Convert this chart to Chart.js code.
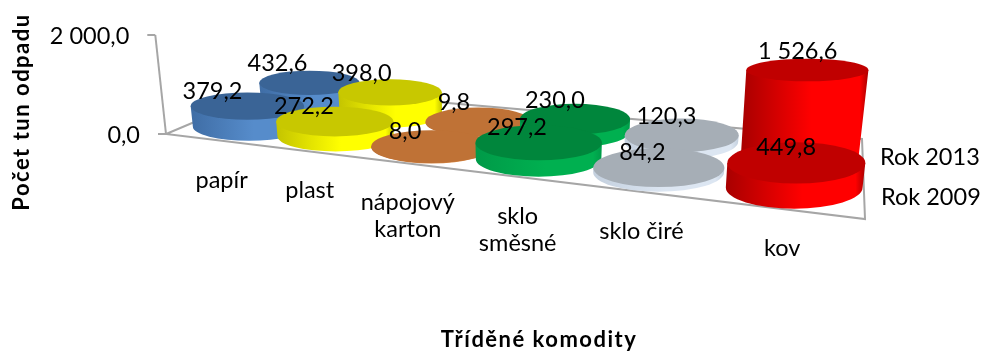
<!DOCTYPE html>
<html>
<head>
<meta charset="utf-8">
<script src="https://cdn.jsdelivr.net/npm/chart.js@4"></script>
<style>
  html, body { margin: 0; padding: 0; background: #fff; }
  canvas { display: block; }
</style>
</head>
<body>
<canvas id="chart" width="981" height="351"></canvas>
<script>
// Values
const categories = ['papír', 'plast', ['nápojový', 'karton'], ['sklo', 'směsné'], 'sklo čiré', 'kov'];
const rok2009 = [379.2, 272.2, 8.0, 297.2, 84.2, 449.8];
const rok2013 = [432.6, 398.0, 9.8, 230.0, 120.3, 1526.6];
const seriesNames = ['Rok 2009', 'Rok 2013'];
const yTicks = [0, 2000];

// Cylinder colours per category
const topColors = ['#3a6496', '#c8c800', '#bf7236', '#00863c', '#a6aeb6', '#c00000'];
const sideDark = ['#3f6da5', '#c4c400', '#b86c32', '#009a48', '#c4d0de', '#a80000'];
const sideLight = ['#568ccb', '#ffff00', '#d98844', '#00b050', '#dce6f2', '#ff0000'];

const FONT = 'Lato, sans-serif';
const TEXT_SIZE = 23.5;

// Floor of the 3D box on screen: front left, front right, back right, back left
const FL = [166, 134], FR = [865, 219], BR = [862, 139], BL = [275, 88];
// Where each series stands on the floor, 2009 in front
const DEPTH = [0.25, 0.70];
const BAND_START = [0.025, 0.06];
const BAND_SCALE = [0.98, 0.942];
const LABEL_RISE = [15, 19];

// Homography from the unit square to the floor
function makeFloor() {
  const dx1 = FR[0] - BR[0], dx2 = BL[0] - BR[0], sx = FL[0] - FR[0] + BR[0] - BL[0];
  const dy1 = FR[1] - BR[1], dy2 = BL[1] - BR[1], sy = FL[1] - FR[1] + BR[1] - BL[1];
  const d = dx1 * dy2 - dx2 * dy1;
  const g = (sx * dy2 - dx2 * sy) / d;
  const h = (dx1 * sy - sx * dy1) / d;
  const a = FR[0] - FL[0] + g * FR[0], b = BL[0] - FL[0] + h * BL[0];
  const e = FR[1] - FL[1] + g * FR[1], f = BL[1] - FL[1] + h * BL[1];
  return (u, v) => {
    const w = g * u + h * v + 1;
    return { x: (a * u + b * v + FL[0]) / w, y: (e * u + f * v + FL[1]) / w, w };
  };
}
const floor = makeFloor();

// Walls lean away from a vanishing point above the middle of the chart
function lean(x, height) {
  return (x - 515) * 0.00031 * height;
}

function formatValue(v) {
  const s = v.toFixed(1).replace('.', ',');
  return s.replace(/\B(?=(\d{3})+(?!\d))/, ' ');
}

// Band position of category i across the floor, 0..1
function bandPos(xs, i) {
  return (xs.getPixelForValue(i) - xs.left) / xs.width;
}

// Screen geometry for one cylinder, from the chart scales
function cylinderAt(chart, i, seriesIndex, value) {
  const xs = chart.scales.x, ys = chart.scales.y;
  const u = BAND_START[seriesIndex] + BAND_SCALE[seriesIndex] * bandPos(xs, i);
  const v = DEPTH[seriesIndex];
  const p = floor(u, v);
  const height = (ys.getPixelForValue(0) - ys.getPixelForValue(value)) * 1.1;
  const rx = (59 - 9 * v) / Math.pow(p.w, 0.7);
  const ry = 14.3 / Math.pow(p.w, 1.5);
  return {
    x: p.x,
    y: p.y,
    rx,
    ry,
    topX: p.x + lean(p.x, height),
    topY: p.y - height,
    topRx: rx + height * 0.025,
    topRy: ry * (1 - Math.pow(height / 135, 2))
  };
}

function drawCylinder(ctx, c, i) {
  // gradient spans the whole wall, which is wider at the top when it leans
  const left = Math.min(c.x - c.rx, c.topX - c.topRx);
  const right = Math.max(c.x + c.rx, c.topX + c.topRx);
  const grad = ctx.createLinearGradient(left, 0, right, 0);
  grad.addColorStop(0, sideDark[i]);
  grad.addColorStop(0.55, sideLight[i]);
  grad.addColorStop(0.93, sideLight[i]);
  grad.addColorStop(1, sideDark[i]);
  ctx.fillStyle = grad;
  ctx.beginPath();
  ctx.ellipse(c.x, c.y, c.rx, c.ry, 0, 0, Math.PI);
  ctx.lineTo(c.topX - c.topRx, c.topY);
  ctx.lineTo(c.topX + c.topRx, c.topY);
  ctx.closePath();
  ctx.fill();
  ctx.fillStyle = topColors[i];
  ctx.beginPath();
  ctx.ellipse(c.topX, c.topY, c.topRx, c.topRy, 0, 0, Math.PI * 2);
  ctx.fill();
}

function drawBox(chart) {
  const ctx = chart.ctx, ys = chart.scales.y;
  ctx.strokeStyle = '#a6a6a6';
  ctx.lineWidth = 2;
  ctx.beginPath();
  ctx.moveTo(BL[0], BL[1]);
  ctx.lineTo(FL[0], FL[1]);
  ctx.lineTo(FR[0], FR[1]);
  ctx.lineTo(BR[0], BR[1]);
  ctx.lineTo(BL[0], BL[1]);
  ctx.stroke();

  // leaning value axis with ticks
  const bottom = ys.getPixelForValue(yTicks[0]), top = ys.getPixelForValue(yTicks[1]);
  ctx.beginPath();
  ctx.moveTo(FL[0], bottom);
  ctx.lineTo(FL[0] + lean(FL[0], bottom - top), top);
  ctx.stroke();
  ctx.fillStyle = '#000';
  ctx.font = TEXT_SIZE + 'px ' + FONT;
  ctx.textAlign = 'right';
  ctx.textBaseline = 'middle';
  yTicks.forEach(t => {
    const py = ys.getPixelForValue(t);
    const px = FL[0] + lean(FL[0], bottom - py);
    ctx.beginPath();
    ctx.moveTo(px, py);
    ctx.lineTo(px - 8, py);
    ctx.stroke();
    ctx.fillText(formatValue(t), px - 26, py + 1);
  });
}

const cylinderPlugin = {
  id: 'cylinders',
  beforeDatasetsDraw(chart) {
    const ctx = chart.ctx;
    ctx.save();
    drawBox(chart);
    // back row first, left to right
    [1, 0].forEach(s => {
      chart.data.datasets[s].data.forEach((val, i) => {
        drawCylinder(ctx, cylinderAt(chart, i, s, val), i);
      });
    });
    ctx.restore();
  },
  afterDatasetsDraw(chart) {
    const ctx = chart.ctx, xs = chart.scales.x;
    ctx.save();
    ctx.fillStyle = '#000';
    ctx.font = TEXT_SIZE + 'px ' + FONT;
    ctx.textAlign = 'center';
    ctx.textBaseline = 'middle';

    // value labels sit up and to the left of each top
    [1, 0].forEach(s => {
      chart.data.datasets[s].data.forEach((val, i) => {
        const c = cylinderAt(chart, i, s, val);
        ctx.fillText(formatValue(val), c.topX + (c.topX - 800) * 0.045 - 10, c.topY - LABEL_RISE[s]);
      });
    });

    // category labels follow the front edge of the floor
    chart.data.labels.forEach((label, i) => {
      const p = floor(0.02 + 0.97 * bandPos(xs, i), 0);
      const lines = Array.isArray(label) ? label : [label];
      lines.forEach((line, n) => ctx.fillText(line, p.x + 5, p.y + 40 + n * 27));
    });

    // series names right of the box
    ctx.textAlign = 'left';
    ctx.fillText(seriesNames[1], 880, 157);
    ctx.fillText(seriesNames[0], 881, 197);

    // axis titles
    ctx.font = 'bold 22px ' + FONT;
    ctx.textAlign = 'center';
    ctx.letterSpacing = '1.5px';
    ctx.fillText('Tříděné komodity', 539, 340);
    ctx.translate(22, 112);
    ctx.rotate(-Math.PI / 2);
    ctx.fillText('Počet tun odpadu', 0, 0);
    ctx.restore();
  }
};

new Chart(document.getElementById('chart'), {
  type: 'bar',
  data: {
    labels: categories,
    datasets: [
      { label: seriesNames[0], data: rok2009, backgroundColor: 'transparent' },
      { label: seriesNames[1], data: rok2013, backgroundColor: 'transparent' }
    ]
  },
  options: {
    responsive: false,
    animation: false,
    layout: { padding: { left: FL[0], right: 981 - FR[0], top: 35, bottom: 351 - FL[1] } },
    plugins: { legend: { display: false }, tooltip: { enabled: false } },
    scales: {
      x: { display: false },
      y: { display: false, min: yTicks[0], max: yTicks[1] }
    }
  },
  plugins: [cylinderPlugin]
});
</script>
</body>
</html>
